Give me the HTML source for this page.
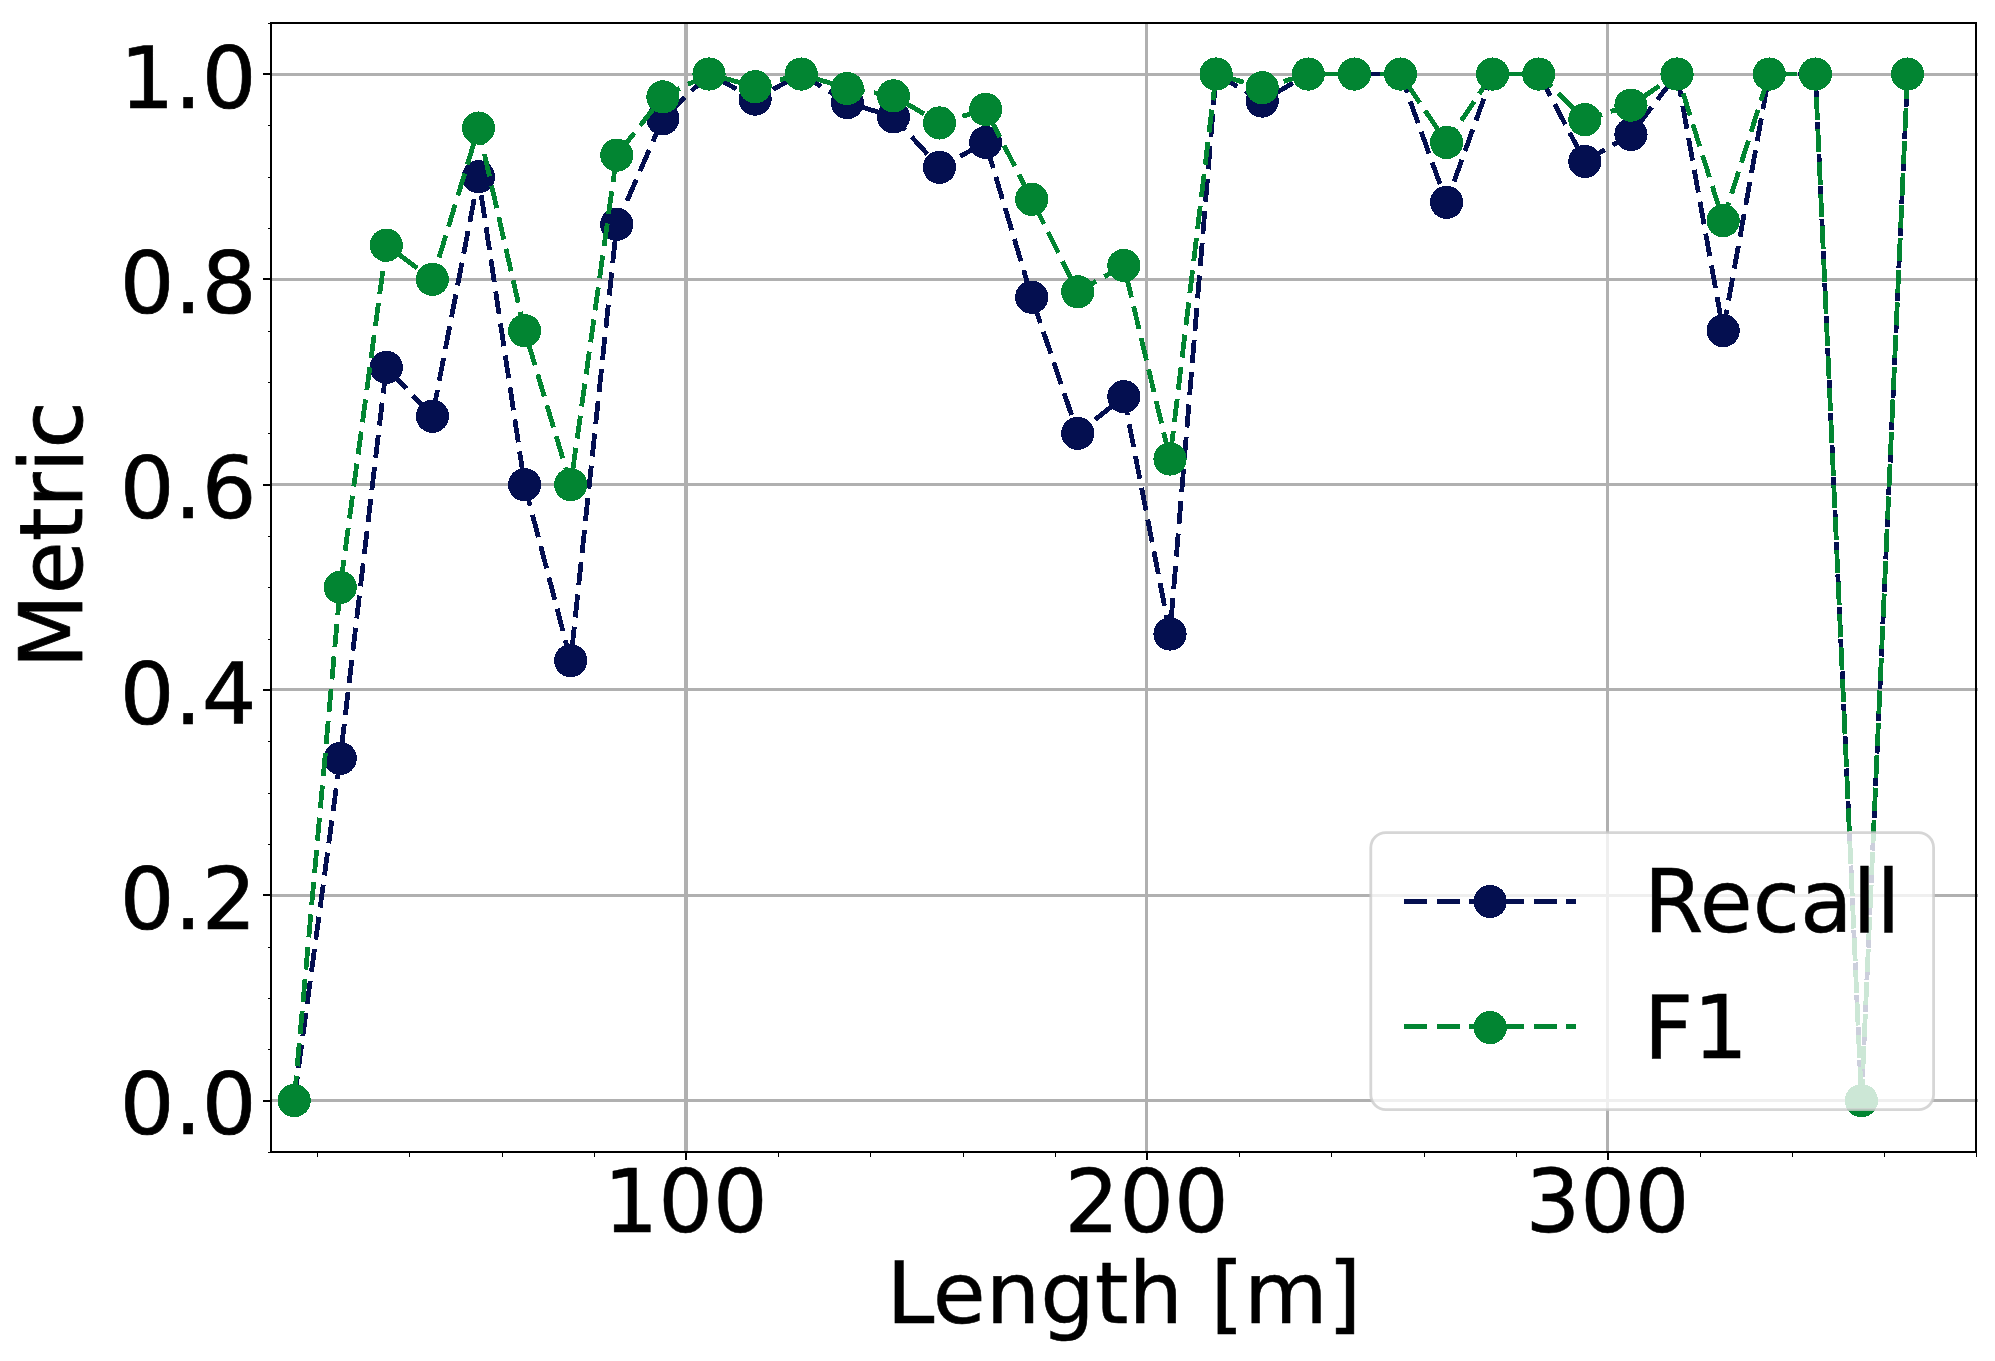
<!DOCTYPE html><html><head><meta charset="utf-8"><title>Recall and F1 vs Length</title>
<style>html,body{margin:0;padding:0;background:#fff}svg{display:block}text{font-family:"DejaVu Sans","Liberation Sans",sans-serif;font-size:86px;fill:#000;stroke:#000;stroke-linejoin:miter}</style></head><body>
<svg width="1995" height="1361" viewBox="0 0 1995 1361">
<rect x="0" y="0" width="1995" height="1361" fill="#fff"/>
<defs><clipPath id="ax"><rect x="271" y="23.1" width="1705.1" height="1128.9"/></clipPath></defs>
<g fill="#b0b0b0" shape-rendering="crispEdges"><rect x="684" y="22" width="4" height="1131"/><rect x="1145" y="22" width="3" height="1131"/><rect x="1606" y="22" width="3" height="1131"/><rect x="270" y="1099" width="1708" height="3"/><rect x="270" y="894" width="1708" height="3"/><rect x="270" y="688" width="1708" height="3"/><rect x="270" y="483" width="1708" height="3"/><rect x="270" y="278" width="1708" height="3"/><rect x="270" y="73" width="1708" height="3"/></g>
<g clip-path="url(#ax)" shape-rendering="crispEdges"><polyline points="294.12,1100.60 340.22,758.42 386.31,367.35 432.41,416.23 478.51,176.70 524.61,484.67 570.71,660.65 616.80,224.28 662.90,118.68 709.00,74.05 755.10,99.09 801.20,74.05 847.29,102.57 893.39,116.82 939.49,167.37 985.59,142.49 1031.68,297.21 1077.78,433.34 1123.88,396.68 1169.98,633.99 1216.08,74.05 1262.18,101.06 1308.27,74.05 1354.37,74.05 1400.47,74.05 1446.57,202.37 1492.66,74.05 1538.76,74.05 1584.86,161.41 1630.96,134.44 1677.06,74.05 1723.15,330.69 1769.25,74.05 1815.35,74.05 1861.45,1100.60 1907.55,74.05" fill="none" stroke="#040f50" stroke-width="4.8" stroke-dasharray="23.07 9.305" stroke-dashoffset="-0.6" stroke-linejoin="round"/><circle cx="294.12" cy="1100.60" r="16.60" fill="#040f50"/><circle cx="340.22" cy="758.42" r="16.60" fill="#040f50"/><circle cx="386.31" cy="367.35" r="16.60" fill="#040f50"/><circle cx="432.41" cy="416.23" r="16.60" fill="#040f50"/><circle cx="478.51" cy="176.70" r="16.60" fill="#040f50"/><circle cx="524.61" cy="484.67" r="16.60" fill="#040f50"/><circle cx="570.71" cy="660.65" r="16.60" fill="#040f50"/><circle cx="616.80" cy="224.28" r="16.60" fill="#040f50"/><circle cx="662.90" cy="118.68" r="16.60" fill="#040f50"/><circle cx="709.00" cy="74.05" r="16.60" fill="#040f50"/><circle cx="755.10" cy="99.09" r="16.60" fill="#040f50"/><circle cx="801.20" cy="74.05" r="16.60" fill="#040f50"/><circle cx="847.29" cy="102.57" r="16.60" fill="#040f50"/><circle cx="893.39" cy="116.82" r="16.60" fill="#040f50"/><circle cx="939.49" cy="167.37" r="16.60" fill="#040f50"/><circle cx="985.59" cy="142.49" r="16.60" fill="#040f50"/><circle cx="1031.68" cy="297.21" r="16.60" fill="#040f50"/><circle cx="1077.78" cy="433.34" r="16.60" fill="#040f50"/><circle cx="1123.88" cy="396.68" r="16.60" fill="#040f50"/><circle cx="1169.98" cy="633.99" r="16.60" fill="#040f50"/><circle cx="1216.08" cy="74.05" r="16.60" fill="#040f50"/><circle cx="1262.18" cy="101.06" r="16.60" fill="#040f50"/><circle cx="1308.27" cy="74.05" r="16.60" fill="#040f50"/><circle cx="1354.37" cy="74.05" r="16.60" fill="#040f50"/><circle cx="1400.47" cy="74.05" r="16.60" fill="#040f50"/><circle cx="1446.57" cy="202.37" r="16.60" fill="#040f50"/><circle cx="1492.66" cy="74.05" r="16.60" fill="#040f50"/><circle cx="1538.76" cy="74.05" r="16.60" fill="#040f50"/><circle cx="1584.86" cy="161.41" r="16.60" fill="#040f50"/><circle cx="1630.96" cy="134.44" r="16.60" fill="#040f50"/><circle cx="1677.06" cy="74.05" r="16.60" fill="#040f50"/><circle cx="1723.15" cy="330.69" r="16.60" fill="#040f50"/><circle cx="1769.25" cy="74.05" r="16.60" fill="#040f50"/><circle cx="1815.35" cy="74.05" r="16.60" fill="#040f50"/><circle cx="1861.45" cy="1100.60" r="16.60" fill="#040f50"/><circle cx="1907.55" cy="74.05" r="16.60" fill="#040f50"/></g>
<g clip-path="url(#ax)" shape-rendering="crispEdges"><polyline points="294.12,1100.60 340.22,587.32 386.31,245.14 432.41,279.36 478.51,128.08 524.61,330.69 570.71,484.67 616.80,155.09 662.90,96.86 709.00,74.05 755.10,86.72 801.20,74.05 847.29,88.51 893.39,95.89 939.49,122.93 985.59,109.45 1031.68,199.24 1077.78,291.80 1123.88,265.44 1169.98,459.01 1216.08,74.05 1262.18,87.74 1308.27,74.05 1354.37,74.05 1400.47,74.05 1446.57,142.49 1492.66,74.05 1538.76,74.05 1584.86,119.67 1630.96,105.16 1677.06,74.05 1723.15,220.70 1769.25,74.05 1815.35,74.05 1861.45,1100.60 1907.55,74.05" fill="none" stroke="#028532" stroke-width="4.8" stroke-dasharray="23.07 9.305" stroke-dashoffset="-2" stroke-linejoin="round"/><circle cx="294.12" cy="1100.60" r="16.60" fill="#028532"/><circle cx="340.22" cy="587.32" r="16.60" fill="#028532"/><circle cx="386.31" cy="245.14" r="16.60" fill="#028532"/><circle cx="432.41" cy="279.36" r="16.60" fill="#028532"/><circle cx="478.51" cy="128.08" r="16.60" fill="#028532"/><circle cx="524.61" cy="330.69" r="16.60" fill="#028532"/><circle cx="570.71" cy="484.67" r="16.60" fill="#028532"/><circle cx="616.80" cy="155.09" r="16.60" fill="#028532"/><circle cx="662.90" cy="96.86" r="16.60" fill="#028532"/><circle cx="709.00" cy="74.05" r="16.60" fill="#028532"/><circle cx="755.10" cy="86.72" r="16.60" fill="#028532"/><circle cx="801.20" cy="74.05" r="16.60" fill="#028532"/><circle cx="847.29" cy="88.51" r="16.60" fill="#028532"/><circle cx="893.39" cy="95.89" r="16.60" fill="#028532"/><circle cx="939.49" cy="122.93" r="16.60" fill="#028532"/><circle cx="985.59" cy="109.45" r="16.60" fill="#028532"/><circle cx="1031.68" cy="199.24" r="16.60" fill="#028532"/><circle cx="1077.78" cy="291.80" r="16.60" fill="#028532"/><circle cx="1123.88" cy="265.44" r="16.60" fill="#028532"/><circle cx="1169.98" cy="459.01" r="16.60" fill="#028532"/><circle cx="1216.08" cy="74.05" r="16.60" fill="#028532"/><circle cx="1262.18" cy="87.74" r="16.60" fill="#028532"/><circle cx="1308.27" cy="74.05" r="16.60" fill="#028532"/><circle cx="1354.37" cy="74.05" r="16.60" fill="#028532"/><circle cx="1400.47" cy="74.05" r="16.60" fill="#028532"/><circle cx="1446.57" cy="142.49" r="16.60" fill="#028532"/><circle cx="1492.66" cy="74.05" r="16.60" fill="#028532"/><circle cx="1538.76" cy="74.05" r="16.60" fill="#028532"/><circle cx="1584.86" cy="119.67" r="16.60" fill="#028532"/><circle cx="1630.96" cy="105.16" r="16.60" fill="#028532"/><circle cx="1677.06" cy="74.05" r="16.60" fill="#028532"/><circle cx="1723.15" cy="220.70" r="16.60" fill="#028532"/><circle cx="1769.25" cy="74.05" r="16.60" fill="#028532"/><circle cx="1815.35" cy="74.05" r="16.60" fill="#028532"/><circle cx="1861.45" cy="1100.60" r="16.60" fill="#028532"/><circle cx="1907.55" cy="74.05" r="16.60" fill="#028532"/></g>
<g fill="#000" shape-rendering="crispEdges"><rect x="685" y="1153" width="2" height="7"/><rect x="1146" y="1153" width="2" height="7"/><rect x="1607" y="1153" width="2" height="7"/><rect x="317" y="1153" width="1" height="4"/><rect x="409" y="1153" width="1" height="4"/><rect x="502" y="1153" width="1" height="4"/><rect x="594" y="1153" width="1" height="4"/><rect x="778" y="1153" width="1" height="4"/><rect x="870" y="1153" width="1" height="4"/><rect x="963" y="1153" width="1" height="4"/><rect x="1055" y="1153" width="1" height="4"/><rect x="1239" y="1153" width="1" height="4"/><rect x="1331" y="1153" width="1" height="4"/><rect x="1424" y="1153" width="1" height="4"/><rect x="1516" y="1153" width="1" height="4"/><rect x="1700" y="1153" width="1" height="4"/><rect x="1792" y="1153" width="1" height="4"/><rect x="1884" y="1153" width="1" height="4"/><rect x="1976" y="1153" width="1" height="4"/><rect x="263" y="1100" width="7" height="2"/><rect x="263" y="894" width="7" height="2"/><rect x="263" y="689" width="7" height="2"/><rect x="263" y="484" width="7" height="2"/><rect x="263" y="278" width="7" height="2"/><rect x="263" y="73" width="7" height="2"/><rect x="268" y="1152" width="2" height="1"/><rect x="268" y="1049" width="2" height="1"/><rect x="268" y="998" width="2" height="1"/><rect x="268" y="947" width="2" height="1"/><rect x="268" y="844" width="2" height="1"/><rect x="268" y="793" width="2" height="1"/><rect x="268" y="741" width="2" height="1"/><rect x="268" y="639" width="2" height="1"/><rect x="268" y="587" width="2" height="1"/><rect x="268" y="536" width="2" height="1"/><rect x="268" y="433" width="2" height="1"/><rect x="268" y="382" width="2" height="1"/><rect x="268" y="331" width="2" height="1"/><rect x="268" y="228" width="2" height="1"/><rect x="268" y="177" width="2" height="1"/><rect x="268" y="125" width="2" height="1"/><rect x="268" y="23" width="2" height="1"/><rect x="270" y="22" width="2" height="1131"/><rect x="1975" y="22" width="2" height="1131"/><rect x="270" y="22" width="1707" height="2"/><rect x="270" y="1151" width="1707" height="2"/></g>
<text transform="translate(685.55,1232.40) scale(1,1.016)" text-anchor="middle" font-size="85.5" stroke-width="0.5">100</text>
<text transform="translate(1146.53,1232.40) scale(1,1.016)" text-anchor="middle" font-size="85.5" stroke-width="0.5">200</text>
<text transform="translate(1607.51,1232.40) scale(1,1.016)" text-anchor="middle" font-size="85.5" stroke-width="0.5">300</text>
<text transform="translate(256.50,1134.30) scale(1,1)" text-anchor="end" font-size="86" stroke-width="0.7">0.0</text>
<text transform="translate(256.50,928.99) scale(1,1)" text-anchor="end" font-size="86" stroke-width="0.7">0.2</text>
<text transform="translate(256.50,723.68) scale(1,1)" text-anchor="end" font-size="86" stroke-width="0.7">0.4</text>
<text transform="translate(256.50,518.37) scale(1,1)" text-anchor="end" font-size="86" stroke-width="0.7">0.6</text>
<text transform="translate(256.50,313.06) scale(1,1)" text-anchor="end" font-size="86" stroke-width="0.7">0.8</text>
<text transform="translate(256.50,107.75) scale(1,1)" text-anchor="end" font-size="86" stroke-width="0.7">1.0</text>
<text transform="translate(1123.85,1322.60) scale(1,1)" text-anchor="middle" font-size="85.7" stroke-width="0.5">Length [m]</text>
<text transform="translate(81.95,534.80) rotate(-90) scale(1,1.012)" text-anchor="middle" font-size="85.7" stroke-width="0.8">Metric</text>
<rect x="1370.8" y="832.7" width="562.8" height="276.9" rx="15" ry="15" fill="#fff" fill-opacity="0.8" stroke="#ccc" stroke-opacity="0.8" stroke-width="2.8"/>
<line x1="1404.2" y1="901.65" x2="1576.1" y2="901.65" stroke="#040f50" stroke-width="4.8" stroke-dasharray="23.07 9.305" shape-rendering="crispEdges"/>
<circle cx="1490.2" cy="901.5" r="16.6" fill="#040f50" shape-rendering="crispEdges"/>
<text transform="translate(1643.85,931.85) scale(1,1.005)" text-anchor="start" font-size="85.8" stroke-width="0.5">Recall</text>
<line x1="1404.2" y1="1026.8" x2="1576.1" y2="1026.8" stroke="#028532" stroke-width="4.8" stroke-dasharray="23.07 9.305" shape-rendering="crispEdges"/>
<circle cx="1490.2" cy="1027.6" r="16.6" fill="#028532" shape-rendering="crispEdges"/>
<text transform="translate(1643.85,1057.65) scale(1,1.005)" text-anchor="start" font-size="85.8" stroke-width="0.5">F1</text>
</svg></body></html>
